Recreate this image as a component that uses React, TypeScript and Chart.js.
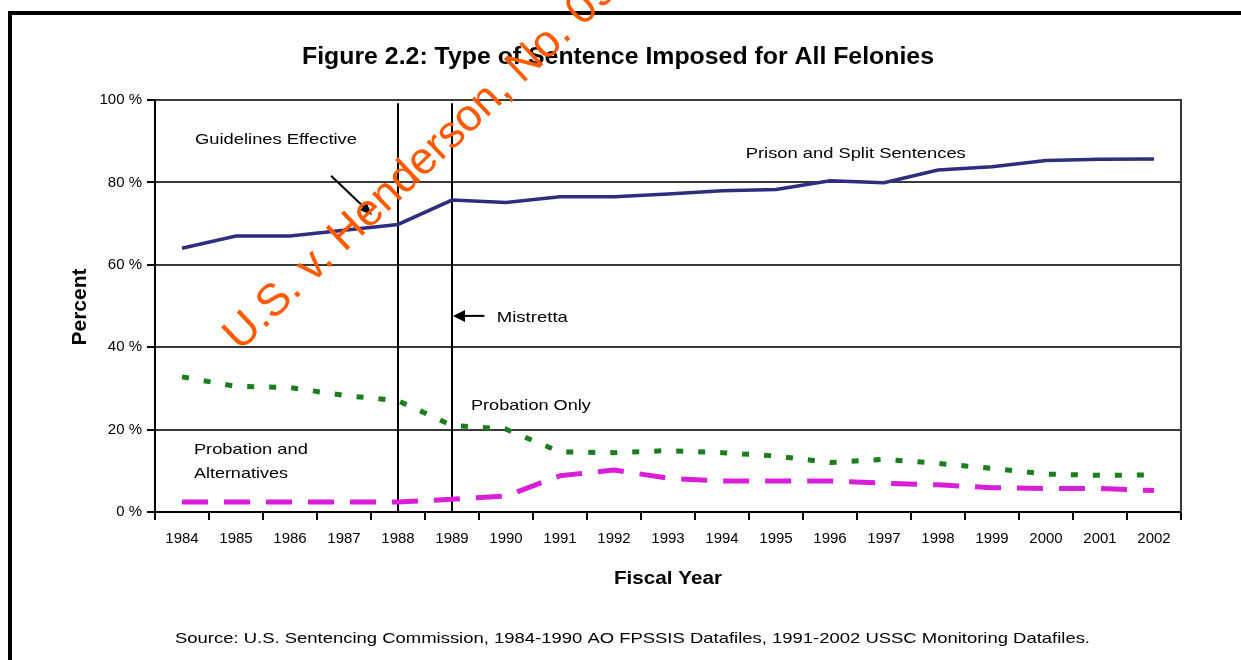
import React, { useEffect, useRef } from "react";
import { Chart, registerables } from "chart.js";

Chart.register(...registerables);

// ---- data ----
const years = [
  "1984", "1985", "1986", "1987", "1988", "1989", "1990", "1991", "1992", "1993",
  "1994", "1995", "1996", "1997", "1998", "1999", "2000", "2001", "2002",
];
const prisonAndSplit = [64, 67, 67, 68.4, 69.8, 75.7, 75.1, 76.5, 76.5, 77.2, 78, 78.3, 80.4, 79.9, 83, 83.8, 85.3, 85.6, 85.7];
const probationOnly = [32.8, 30.5, 30.2, 28.3, 27, 21, 20.1, 14.6, 14.4, 14.9, 14.4, 13.6, 12, 12.8, 11.8, 10.6, 9.2, 8.9, 9.0];
const probationAndAlternatives = [2.4, 2.4, 2.4, 2.4, 2.4, 3.1, 3.9, 8.8, 10.2, 8.2, 7.5, 7.5, 7.5, 7.0, 6.6, 5.9, 5.7, 5.7, 5.2];
const yTickValues = [0, 20, 40, 60, 80, 100];
const markerYears = ["1988", "1989"]; // Guidelines Effective, Mistretta

const titleText = "Figure 2.2: Type of Sentence Imposed for All Felonies";
const xTitle = "Fiscal Year";
const yTitle = "Percent";
const sourceText =
  "Source: U.S. Sentencing Commission, 1984-1990 AO FPSSIS Datafiles, 1991-2002 USSC Monitoring Datafiles.";
const watermarkText = "U.S. v. Henderson, No. 09";

const FONT = '"Liberation Sans", Arial, sans-serif';

function fitText(
  ctx: CanvasRenderingContext2D,
  text: string,
  x: number,
  y: number,
  font: string,
  width: number,
  align: "left" | "center" = "left"
) {
  ctx.save();
  ctx.font = font;
  ctx.textBaseline = "middle";
  ctx.textAlign = "left";
  ctx.fillStyle = "#000";
  const w = ctx.measureText(text).width;
  const sx = width / w;
  const left = align === "center" ? x - width / 2 : x;
  ctx.translate(left, y + 1.5);
  ctx.scale(sx, 1);
  ctx.fillText(text, 0, 0);
  ctx.restore();
}

function arrow(ctx: CanvasRenderingContext2D, x1: number, y1: number, x2: number, y2: number, head: number, half: number) {
  const ang = Math.atan2(y2 - y1, x2 - x1);
  ctx.save();
  ctx.strokeStyle = "#000";
  ctx.fillStyle = "#000";
  ctx.lineWidth = 2;
  ctx.beginPath();
  ctx.moveTo(x1, y1);
  ctx.lineTo(x2 - Math.cos(ang) * head * 0.5, y2 - Math.sin(ang) * head * 0.5);
  ctx.stroke();
  ctx.beginPath();
  ctx.moveTo(x2, y2);
  const bx = x2 - Math.cos(ang) * head;
  const by = y2 - Math.sin(ang) * head;
  ctx.lineTo(bx + Math.sin(ang) * half, by - Math.cos(ang) * half);
  ctx.lineTo(bx - Math.sin(ang) * half, by + Math.cos(ang) * half);
  ctx.closePath();
  ctx.fill();
  ctx.restore();
}

const decor = {
  id: "decor",
  beforeDraw(chart: any) {
    const ctx = chart.ctx as CanvasRenderingContext2D;
    ctx.save();
    ctx.fillStyle = "#fff";
    ctx.fillRect(0, 0, chart.width, chart.height);
    ctx.fillStyle = "#000";
    ctx.fillRect(8, 11, chart.width - 8, 4);
    ctx.fillRect(8, 11, 4, chart.height - 11);
    ctx.restore();
  },
  beforeDatasetsDraw(chart: any) {
    const ctx = chart.ctx as CanvasRenderingContext2D;
    const { top, bottom, right } = chart.chartArea;
    const xs = chart.scales.x;
    const ys = chart.scales.y;
    ctx.save();
    ctx.strokeStyle = "#3a3a3a";
    ctx.lineWidth = 2;
    ctx.beginPath();
    ctx.moveTo(right, top - 1);
    ctx.lineTo(right, bottom);
    ctx.stroke();
    ctx.strokeStyle = "#000";
    for (const yr of markerYears) {
      const px = Math.round(xs.getPixelForValue(years.indexOf(yr)));
      ctx.beginPath();
      ctx.moveTo(px, ys.getPixelForValue(99.2));
      ctx.lineTo(px, bottom);
      ctx.stroke();
    }
    ctx.restore();
  },
  afterDraw(chart: any) {
    const ctx = chart.ctx as CanvasRenderingContext2D;
    const xs = chart.scales.x;
    const ys = chart.scales.y;
    const X = (i: number) => xs.getPixelForValue(i);
    const Y = (v: number) => ys.getPixelForValue(v);
    const { left, right } = chart.chartArea;

    // title & axis titles & source
    fitText(ctx, titleText, 618, 56, `bold 23px ${FONT}`, 632, "center");
    fitText(ctx, xTitle, (left + right) / 2, 577, `bold 19px ${FONT}`, 108, "center");
    ctx.save();
    ctx.translate(80, 307);
    ctx.rotate(-Math.PI / 2);
    fitText(ctx, yTitle, 0, -1.5, `bold 20px ${FONT}`, 77, "center");
    ctx.restore();
    fitText(ctx, sourceText, 175, 637, `15px ${FONT}`, 915);

    // annotations (data space)
    const f = `15px ${FONT}`;
    fitText(ctx, "Guidelines Effective", X(0.24), Y(90.8), f, 162);
    fitText(ctx, "Prison and Split Sentences", X(10.44), Y(87.4), f, 220);
    fitText(ctx, "Mistretta", X(5.83), Y(47.6), f, 71);
    fitText(ctx, "Probation Only", X(5.35), Y(26.2), f, 120);
    fitText(ctx, "Probation and", X(0.22), Y(15.5), f, 114);
    fitText(ctx, "Alternatives", X(0.22), Y(9.7), f, 94);

    arrow(ctx, X(2.76), Y(81.6), X(3.52), Y(72.1), 12, 5);
    arrow(ctx, X(5.6), Y(47.6), X(5.0) + 1, Y(47.6), 12, 6);

    // watermark
    ctx.save();
    ctx.translate(240, 352);
    ctx.rotate((-43.5 * Math.PI) / 180);
    ctx.font = `45px ${FONT}`;
    ctx.fillStyle = "#ff5a00";
    ctx.textBaseline = "alphabetic";
    ctx.textAlign = "left";
    ctx.fillText(watermarkText, 0, 0);
    ctx.restore();
  },
};

export default function App() {
  const ref = useRef<HTMLCanvasElement>(null);
  useEffect(() => {
    if (!ref.current) return;
    const chart = new Chart(ref.current, {
      type: "line",
      data: {
        labels: years,
        datasets: [
          {
            label: "Prison and Split Sentences",
            data: prisonAndSplit,
            borderColor: "#2e2e80",
            borderWidth: 3.5,
            pointRadius: 0,
            tension: 0,
          },
          {
            label: "Probation Only",
            data: probationOnly,
            borderColor: "#1b7d1b",
            borderWidth: 5,
            borderDash: [7, 15],
            borderCapStyle: "butt",
            pointRadius: 0,
            tension: 0,
          },
          {
            label: "Probation and Alternatives",
            data: probationAndAlternatives,
            borderColor: "#d81ed8",
            borderWidth: 5,
            borderDash: [26, 16],
            borderCapStyle: "butt",
            pointRadius: 0,
            tension: 0,
          },
        ],
      },
      options: {
        responsive: false,
        animation: false,
        devicePixelRatio: 1,
        layout: { padding: { top: 100, right: 60, bottom: 0, left: 0 } },
        plugins: { legend: { display: false }, tooltip: { enabled: false }, title: { display: false } },
        scales: {
          x: {
            type: "category",
            offset: true,
            afterFit: (s: any) => {
              s.height = 148;
            },
            grid: {
              display: true,
              drawOnChartArea: false,
              drawTicks: true,
              tickLength: 8,
              offset: true,
              color: "#000",
              lineWidth: 2,
            },
            border: { display: true, color: "#000", width: 2 },
            ticks: {
              color: "#000",
              font: { family: FONT, size: 15 },
              padding: 10,
              maxRotation: 0,
              autoSkip: false,
            },
          },
          y: {
            min: 0,
            max: 100,
            afterFit: (s: any) => {
              s.width = 155;
            },
            afterBuildTicks: (s: any) => {
              s.ticks = yTickValues.map((v) => ({ value: v }));
            },
            grid: {
              color: "#3a3a3a",
              lineWidth: 2,
              tickLength: 8,
              tickColor: "#000",
            },
            border: { display: true, color: "#000", width: 2 },
            ticks: {
              color: "#000",
              font: { family: FONT, size: 15 },
              padding: 5,
              callback: (v: any) => `${v} %`,
            },
          },
        },
      },
      plugins: [decor],
    });
    return () => chart.destroy();
  }, []);
  return (
    <div style={{ position: "absolute", left: 0, top: 0, width: 1241, height: 660, background: "#fff" }}>
      <canvas ref={ref} width={1241} height={660} style={{ display: "block" }} />
    </div>
  );
}
